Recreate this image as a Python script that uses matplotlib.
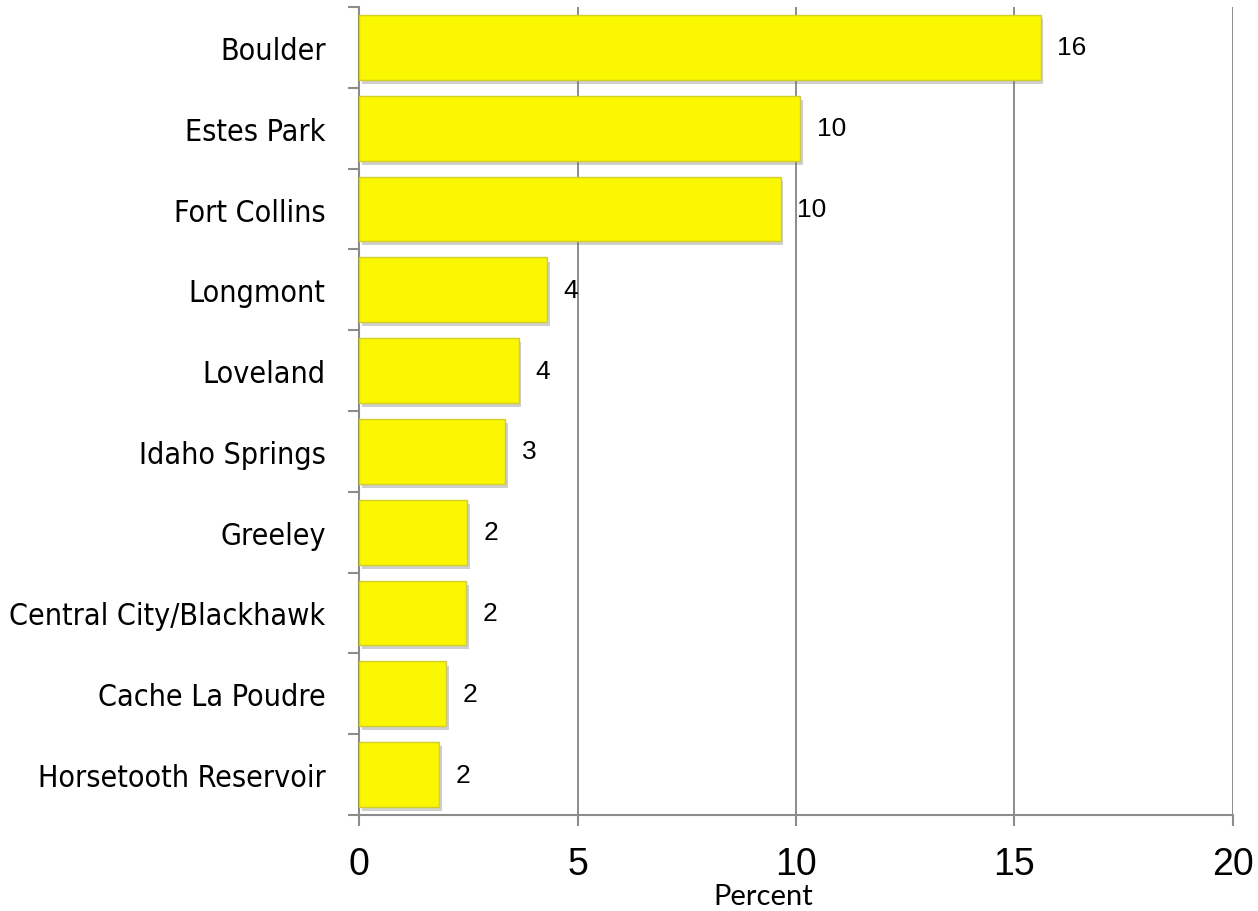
import matplotlib.pyplot as plt
import matplotlib.patheffects as pe
import numpy as np

plt.rcParams["font.family"] = ["Liberation Sans", "DejaVu Sans"]

# 数据（从上到下）
places = ["Boulder", "Estes Park", "Fort Collins", "Longmont", "Loveland",
          "Idaho Springs", "Greeley", "Central City/Blackhawk",
          "Cache La Poudre", "Horsetooth Reservoir"]
percent = [15.6, 10.1, 9.65, 4.3, 3.65, 3.35, 2.48, 2.45, 2.0, 1.83]
xticks = [0, 5, 10, 15, 20]

grid_col = "#8c8c8c"

fig = plt.figure(figsize=(12.58, 9.12), dpi=100)
ax = fig.add_axes([0.2854, 0.1053, 0.6947, 0.8859])

y = np.arange(len(places))
bars = ax.barh(y, percent, height=0.8, color="#FAF700",
               edgecolor="#D2CE2A", linewidth=1.0, zorder=3)
for b in bars:
    b.set_path_effects([pe.SimplePatchShadow(offset=(2, -3), shadow_rgbFace="#777777", alpha=0.35),
                        pe.Normal()])

# 数值标签
for yi, v in zip(y, percent):
    ax.annotate(f"{v:.0f}", (v, yi), xytext=(12, 0), textcoords="offset points",
                va="center", ha="left", fontsize=19)

ax.set_xlim(0, 20)
ax.set_ylim(len(places) - 0.5, -0.5)
ax.set_xticks(xticks)
ax.set_xticklabels([str(t) for t in xticks], fontsize=27)
ax.tick_params(axis="x", length=8, width=1.5, color=grid_col, pad=14)

# 类别标签在中间，刻度在边界
ax.set_yticks(y)
ax.set_yticklabels(places, fontsize=21.8, family="DejaVu Sans", fontstretch="condensed")
ax.tick_params(axis="y", which="major", length=0, pad=24)
ax.set_yticks(np.arange(len(places) + 1) - 0.5, minor=True)
ax.tick_params(axis="y", which="minor", length=8, width=1.5, color=grid_col)

ax.grid(axis="x", color=grid_col, linewidth=1.4, zorder=0)
ax.set_axisbelow(True)
for s in ["top", "right"]:
    ax.spines[s].set_visible(False)
for s in ["left", "bottom"]:
    ax.spines[s].set_color(grid_col)
    ax.spines[s].set_linewidth(1.5)

fig.text(763 / 1258, 1 - 897 / 912, "Percent", ha="center", va="center",
         fontsize=21, family="Lato")

fig.savefig("out.png", dpi=100)
